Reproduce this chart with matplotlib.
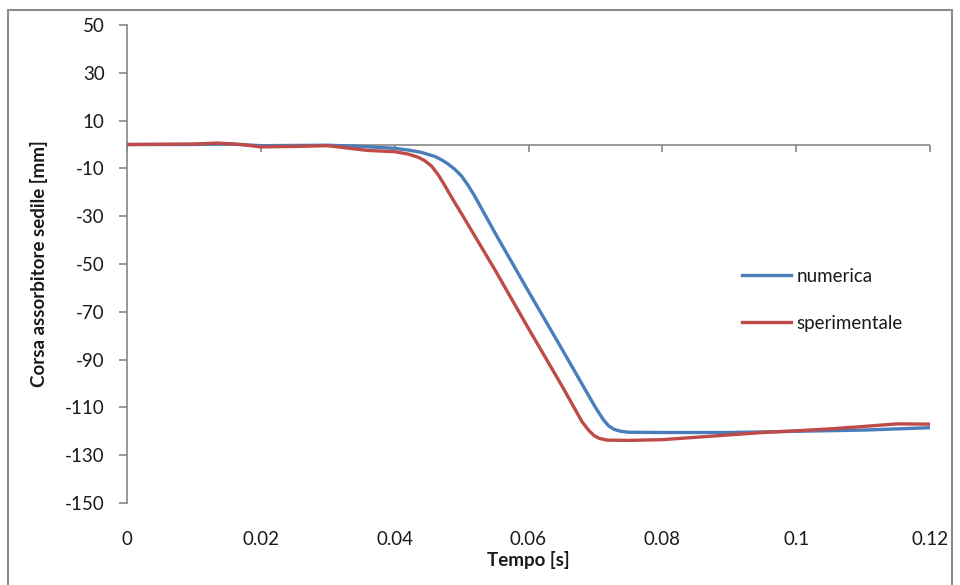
import numpy as np
import matplotlib
matplotlib.use('Agg')
import matplotlib.pyplot as plt
from matplotlib.patches import Rectangle

plt.rcParams['font.family'] = ['Lato', 'DejaVu Sans']
plt.rcParams['axes.unicode_minus'] = False

# numerica (simulation)
t_num = [0, 0.01, 0.015, 0.02, 0.03, 0.035, 0.04, 0.042, 0.044, 0.046, 0.047,
         0.048, 0.049, 0.05, 0.051, 0.052, 0.055, 0.06, 0.065, 0.07, 0.0712,
         0.072, 0.0728, 0.0738, 0.075, 0.08, 0.09, 0.1, 0.11, 0.12]
y_num = [0, 0, 0.3, -0.5, -0.3, -0.8, -1.6, -2.3, -3.3, -5, -6.4,
         -8.2, -10.4, -13.2, -17.2, -21.8, -37, -61.5, -85.6, -110, -115.2,
         -117.8, -119.2, -120, -120.4, -120.5, -120.5, -120, -119.5, -118.5]

# sperimentale (experiment)
t_exp = [0, 0.01, 0.0135, 0.017, 0.02, 0.025, 0.03, 0.033, 0.036, 0.04, 0.042,
         0.0435, 0.0445, 0.0455, 0.0465, 0.0475, 0.0487, 0.05, 0.055, 0.06, 0.065,
         0.068, 0.069, 0.0698, 0.0706, 0.0718, 0.075, 0.08, 0.085, 0.09, 0.095,
         0.1, 0.105, 0.11, 0.115, 0.12]
y_exp = [0, 0.2, 0.6, 0, -1, -0.8, -0.5, -1.5, -2.5, -3, -4,
         -5.3, -6.8, -9, -12.6, -17.2, -23, -29, -52.5, -77, -101,
         -116, -119.6, -121.8, -123, -123.7, -123.8, -123.5, -122.5, -121.5, -120.5,
         -119.8, -119, -118, -116.9, -117]

x_ticks = [0, 0.02, 0.04, 0.06, 0.08, 0.1, 0.12]
x_labels = ['0', '0.02', '0.04', '0.06', '0.08', '0.1', '0.12']
y_ticks = list(range(-150, 51, 20))

axis_gray = '#868686'
txt = '#1a1a1a'

fig = plt.figure(figsize=(9.6, 5.85), dpi=100)
fig.patches.append(Rectangle((8 / 960, -0.05), 944 / 960, 1.05 - 10 / 585,
                             transform=fig.transFigure, fill=False,
                             edgecolor='#8c8c8c', linewidth=1.5))

ax = fig.add_axes([127 / 960, 1 - 503 / 585, 803 / 960, 478 / 585])
ax.axhline(0, color=axis_gray, lw=1.2, zorder=2)
ax.plot(t_num, y_num, color='#4A7EBB', lw=2.4, label='numerica', zorder=3,
        solid_joinstyle='round')
ax.plot(t_exp, y_exp, color='#BE4B48', lw=2.4, label='sperimentale', zorder=3,
        solid_joinstyle='round')

ax.set_xlim(0, 0.12)
ax.set_ylim(-150, 50)
for s in ['top', 'right', 'bottom']:
    ax.spines[s].set_visible(False)
ax.spines['left'].set_color(axis_gray)
ax.spines['left'].set_linewidth(1.2)

ax.set_yticks(y_ticks)
ax.tick_params(axis='y', direction='out', length=6, width=1.2, color=axis_gray,
               labelsize=13.5, labelcolor=txt, pad=10)

# labels at the bottom, no marks
ax.set_xticks(x_ticks)
ax.set_xticklabels(x_labels)
ax.tick_params(axis='x', length=0, labelsize=13.5, labelcolor=txt, pad=20)

# tick marks hanging from the y = 0 line
sec = ax.secondary_xaxis(0.75)
sec.xaxis.set_ticks_position('bottom')
sec.set_xticks(x_ticks)
sec.set_xticklabels([])
for sp in sec.spines.values():
    sp.set_visible(False)
sec.tick_params(axis='x', direction='out', length=5, width=1.2, color=axis_gray)

ax.set_xlabel('Tempo [s]', fontsize=13.5, fontweight='bold', color=txt, labelpad=2)
ax.set_ylabel('Corsa assorbitore sedile [mm]', fontsize=13.5, fontweight='bold',
              color=txt, labelpad=12)

ax.legend(loc='upper left', bbox_to_anchor=(0.745, 0.527), frameon=False,
          fontsize=13.5, handlelength=2.6, handletextpad=0.3, labelspacing=1.6,
          labelcolor=txt)

fig.savefig('out.png', dpi=100)
